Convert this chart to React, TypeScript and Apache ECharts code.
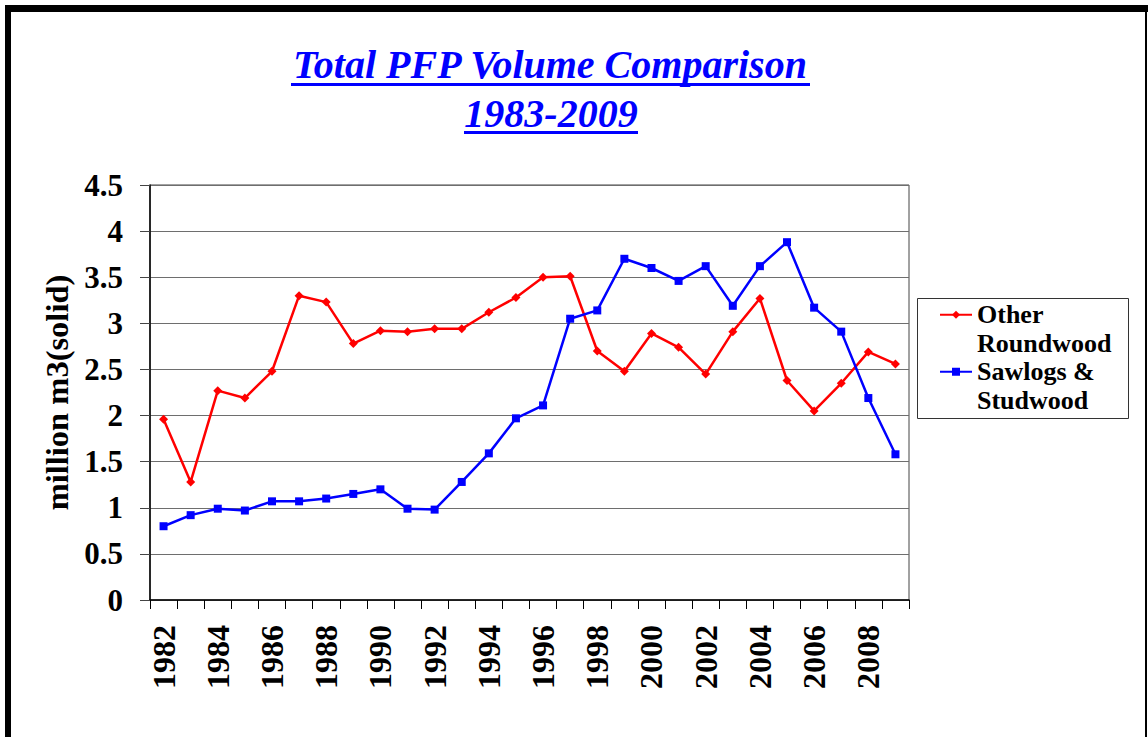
import React, { useEffect, useRef } from "react";
import * as echarts from "echarts";

const years = [
  "1982", "1983", "1984", "1985", "1986", "1987", "1988", "1989", "1990", "1991",
  "1992", "1993", "1994", "1995", "1996", "1997", "1998", "1999", "2000", "2001",
  "2002", "2003", "2004", "2005", "2006", "2007", "2008", "2009",
];
const otherRoundwood = [
  1.96, 1.28, 2.27, 2.19, 2.48, 3.3, 3.23, 2.78, 2.92, 2.91,
  2.94, 2.94, 3.12, 3.28, 3.5, 3.51, 2.7, 2.48, 2.89, 2.74,
  2.45, 2.91, 3.27, 2.38, 2.05, 2.35, 2.69, 2.56,
];
const sawlogsStudwood = [
  0.8, 0.92, 0.99, 0.97, 1.07, 1.07, 1.1, 1.15, 1.2, 0.99,
  0.98, 1.28, 1.59, 1.97, 2.11, 3.05, 3.14, 3.7, 3.6, 3.46,
  3.62, 3.19, 3.62, 3.88, 3.17, 2.91, 2.19, 1.58,
];
const seriesNames = ["Other\nRoundwood", "Sawlogs &\nStudwood"];
const titleLines = ["Total PFP Volume Comparison", "1983-2009"];
const yAxisName = "million m3(solid)";

const FONT = "Liberation Serif";

export default function App() {
  const ref = useRef<HTMLDivElement>(null);
  useEffect(() => {
    if (!ref.current) return;
    const chart = echarts.init(ref.current, null, { renderer: "svg" });
    const titleStyle = {
      fontFamily: FONT,
      fontSize: 40,
      fontWeight: "bold",
      fontStyle: "italic",
      fill: "#0000ff",
      align: "center",
      verticalAlign: "middle",
    };
    chart.setOption({
      animation: false,
      backgroundColor: "#ffffff",
      graphic: [
        { type: "text", x: 550, y: 64.5, style: { ...titleStyle, text: titleLines[0] } },
        { type: "text", x: 551, y: 113.5, style: { ...titleStyle, text: titleLines[1] } },
        { type: "line", shape: { x1: 291, y1: 84.5, x2: 810, y2: 84.5 }, style: { stroke: "#0000ff", lineWidth: 3 } },
        { type: "line", shape: { x1: 464, y1: 132.5, x2: 638, y2: 132.5 }, style: { stroke: "#0000ff", lineWidth: 3 } },
        { type: "line", shape: { x1: 5, y1: 8.5, x2: 1148, y2: 8.5 }, style: { stroke: "#000", lineWidth: 7 } },
        { type: "line", shape: { x1: 8, y1: 5, x2: 8, y2: 737 }, style: { stroke: "#000", lineWidth: 6 } },
        { type: "line", shape: { x1: 1146, y1: 5, x2: 1146, y2: 737 }, style: { stroke: "#000", lineWidth: 2 } },
        { type: "rect", shape: { x: 917.5, y: 298.5, width: 211, height: 120 }, style: { fill: "none", stroke: "#333", lineWidth: 1 } },
      ],
      legend: {
        orient: "vertical",
        left: 917,
        top: 272,
        padding: [0, 20, 0, 22],
        itemWidth: 32,
        itemHeight: 10,
        itemGap: -28.5,
        formatter: (name: string) => "\n" + name,
        textStyle: {
          fontFamily: FONT,
          fontSize: 26,
          fontWeight: "bold",
          color: "#000",
          lineHeight: 28.5,
        },
        data: seriesNames,
      },
      grid: {
        left: 150,
        right: 239,
        top: 185,
        bottom: 137,
        show: true,
        borderColor: "#444",
        borderWidth: 1,
        backgroundColor: "transparent",
      },
      xAxis: {
        type: "category",
        data: years,
        boundaryGap: true,
        axisLine: { lineStyle: { color: "#000", width: 1.5 } },
        axisTick: { show: true, interval: 0, length: 9, lineStyle: { color: "#000", width: 1 } },
        axisLabel: {
          interval: 1,
          rotate: 90,
          margin: 25,
          fontFamily: FONT,
          fontSize: 32,
          fontWeight: "bold",
          color: "#000",
        },
        splitLine: { show: false },
      },
      yAxis: {
        type: "value",
        min: 0,
        max: 4.5,
        interval: 0.5,
        name: yAxisName,
        nameLocation: "middle",
        nameGap: 61,
        nameTextStyle: {
          fontFamily: FONT,
          fontSize: 32.5,
          fontWeight: "bold",
          color: "#000",
        },
        axisLine: { show: true, lineStyle: { color: "#000", width: 1.5 } },
        axisTick: { show: true, length: 10, lineStyle: { color: "#444", width: 1 } },
        axisLabel: {
          margin: 27,
          fontFamily: FONT,
          fontSize: 31,
          fontWeight: "bold",
          color: "#000",
        },
        splitLine: { show: true, lineStyle: { color: "#6e6e6e", width: 1.2 } },
      },
      series: [
        {
          name: seriesNames[0],
          type: "line",
          data: otherRoundwood,
          symbol: "diamond",
          symbolSize: 9,
          lineStyle: { color: "#ff0000", width: 2.5 },
          itemStyle: { color: "#ff0000" },
        },
        {
          name: seriesNames[1],
          type: "line",
          data: sawlogsStudwood,
          symbol: "rect",
          symbolSize: 8,
          lineStyle: { color: "#0000ff", width: 2.5 },
          itemStyle: { color: "#0000ff" },
        },
      ],
    });
    return () => chart.dispose();
  }, []);
  return (
    <div
      ref={ref}
      style={{ position: "fixed", left: 0, top: 0, width: 1148, height: 737 }}
    />
  );
}
